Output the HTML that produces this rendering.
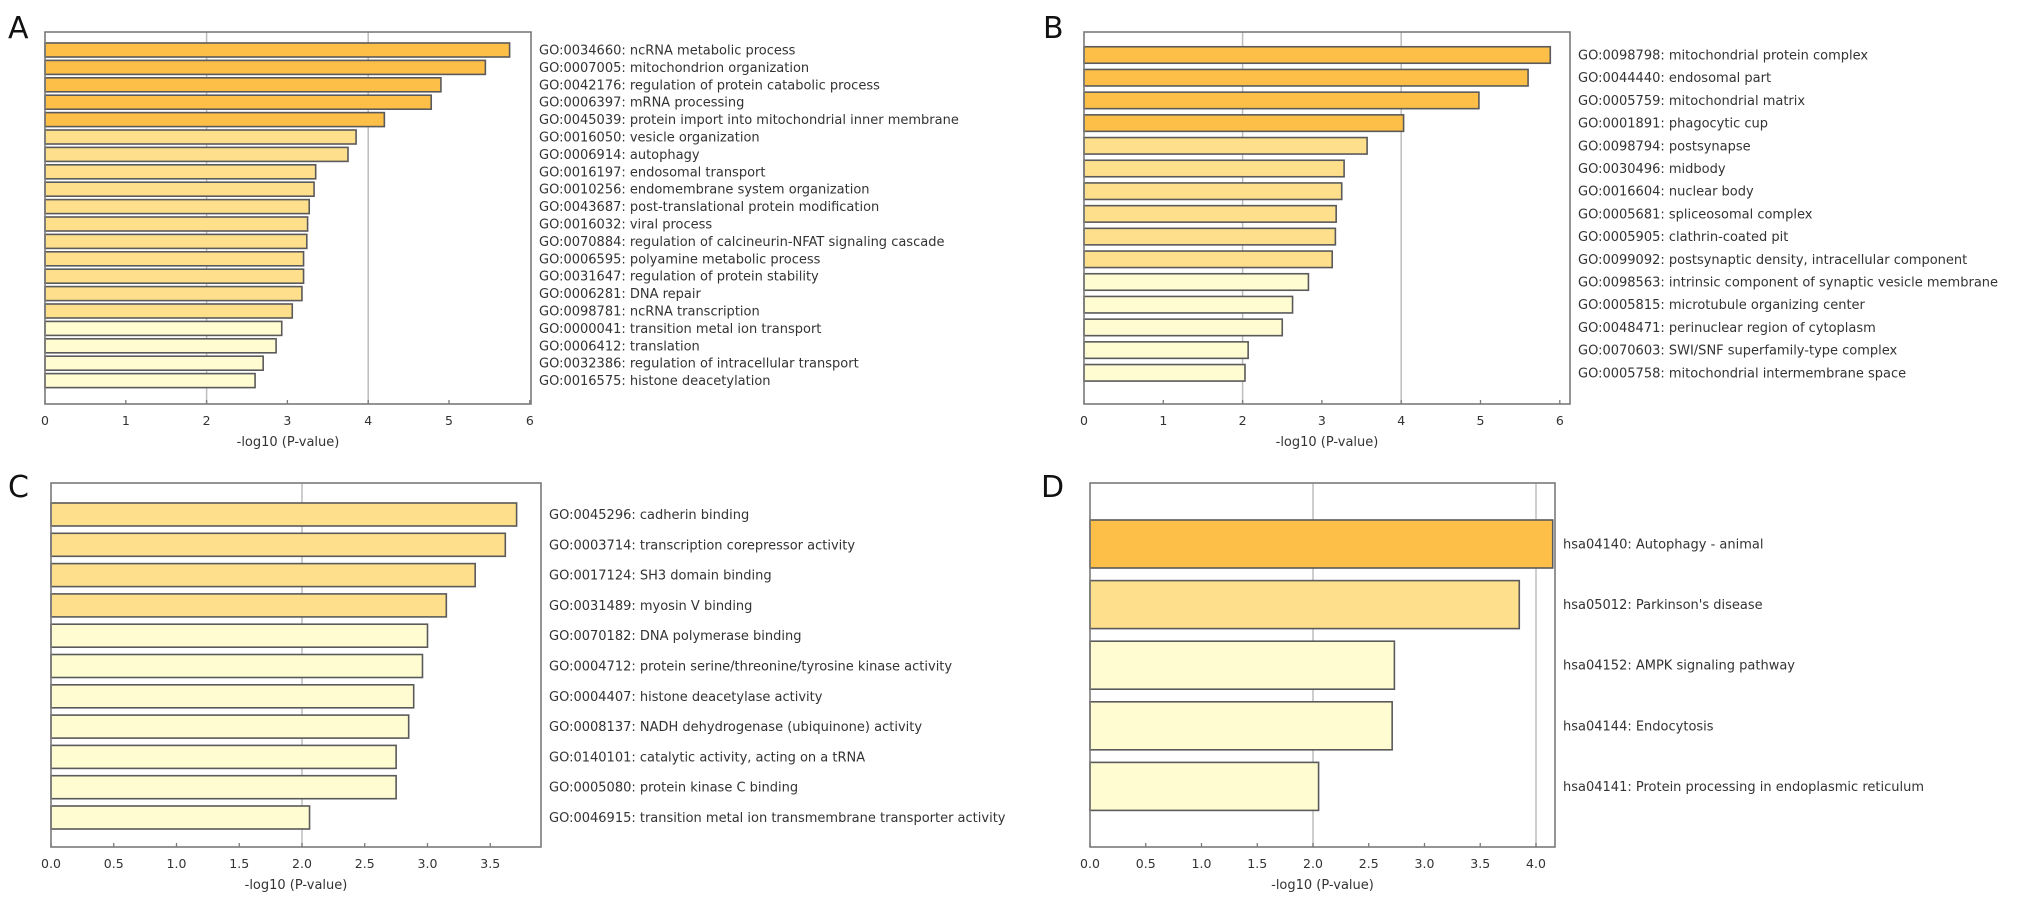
<!DOCTYPE html>
<html><head><meta charset="utf-8"><style>
html,body{margin:0;padding:0;background:#fff;}
svg{display:block;}
text{font-family:"DejaVu Sans","Liberation Sans",sans-serif;fill:#333;}
</style></head><body>
<svg id="fig" width="2031" height="905" viewBox="0 0 2031 905" xmlns="http://www.w3.org/2000/svg">
<text x="8" y="38" font-size="30" style="fill:#111">A</text>
<text x="1043" y="38" font-size="30" style="fill:#111">B</text>
<text x="8" y="497" font-size="30" style="fill:#111">C</text>
<text x="1041" y="497" font-size="30" style="fill:#111">D</text>
</svg>
<script>
const aTerms = ["GO:0034660: ncRNA metabolic process","GO:0007005: mitochondrion organization","GO:0042176: regulation of protein catabolic process","GO:0006397: mRNA processing","GO:0045039: protein import into mitochondrial inner membrane","GO:0016050: vesicle organization","GO:0006914: autophagy","GO:0016197: endosomal transport","GO:0010256: endomembrane system organization","GO:0043687: post-translational protein modification","GO:0016032: viral process","GO:0070884: regulation of calcineurin-NFAT signaling cascade","GO:0006595: polyamine metabolic process","GO:0031647: regulation of protein stability","GO:0006281: DNA repair","GO:0098781: ncRNA transcription","GO:0000041: transition metal ion transport","GO:0006412: translation","GO:0032386: regulation of intracellular transport","GO:0016575: histone deacetylation"];
const aValues = [5.75,5.45,4.9,4.78,4.2,3.85,3.75,3.35,3.33,3.27,3.25,3.24,3.2,3.2,3.18,3.06,2.93,2.86,2.7,2.6];
const aTiers = [0,0,0,0,0,1,1,1,1,1,1,1,1,1,1,1,2,2,2,2];
const aTicks = ["0","1","2","3","4","5","6"];

const bTerms = ["GO:0098798: mitochondrial protein complex","GO:0044440: endosomal part","GO:0005759: mitochondrial matrix","GO:0001891: phagocytic cup","GO:0098794: postsynapse","GO:0030496: midbody","GO:0016604: nuclear body","GO:0005681: spliceosomal complex","GO:0005905: clathrin-coated pit","GO:0099092: postsynaptic density, intracellular component","GO:0098563: intrinsic component of synaptic vesicle membrane","GO:0005815: microtubule organizing center","GO:0048471: perinuclear region of cytoplasm","GO:0070603: SWI/SNF superfamily-type complex","GO:0005758: mitochondrial intermembrane space"];
const bValues = [5.88,5.6,4.98,4.03,3.57,3.28,3.25,3.18,3.17,3.13,2.83,2.63,2.5,2.07,2.03];
const bTiers = [0,0,0,0,1,1,1,1,1,1,2,2,2,2,2];
const bTicks = ["0","1","2","3","4","5","6"];

const cTerms = ["GO:0045296: cadherin binding","GO:0003714: transcription corepressor activity","GO:0017124: SH3 domain binding","GO:0031489: myosin V binding","GO:0070182: DNA polymerase binding","GO:0004712: protein serine/threonine/tyrosine kinase activity","GO:0004407: histone deacetylase activity","GO:0008137: NADH dehydrogenase (ubiquinone) activity","GO:0140101: catalytic activity, acting on a tRNA","GO:0005080: protein kinase C binding","GO:0046915: transition metal ion transmembrane transporter activity"];
const cValues = [3.71,3.62,3.38,3.15,3.0,2.96,2.89,2.85,2.75,2.75,2.06];
const cTiers = [1,1,1,1,2,2,2,2,2,2,2];
const cTicks = ["0.0","0.5","1.0","1.5","2.0","2.5","3.0","3.5"];

const dTerms = ["hsa04140: Autophagy - animal","hsa05012: Parkinson's disease","hsa04152: AMPK signaling pathway","hsa04144: Endocytosis","hsa04141: Protein processing in endoplasmic reticulum"];
const dValues = [4.15,3.85,2.73,2.71,2.05];
const dTiers = [0,1,2,2,2];
const dTicks = ["0.0","0.5","1.0","1.5","2.0","2.5","3.0","3.5","4.0"];

const tierColors = ["#fdbf48","#fedf8c","#fffcd2"];
const svg = document.getElementById('fig');
const NS = "http://www.w3.org/2000/svg";
function mk(tag, attrs){const e=document.createElementNS(NS,tag);for(const k in attrs)e.setAttribute(k,attrs[k]);svg.appendChild(e);return e;}

function panel(id, terms, values, tiers, ticks, L){
  const x = v => L.left + v*L.ppu;
  const right = L.right;
  // gridlines
  ticks.forEach((t,i)=>{
    const v = parseFloat(t);
    if (L.grid.indexOf(v) >= 0){
      const g = mk('line',{x1:x(v),x2:x(v),y1:L.top,y2:L.bottom,stroke:'#bdbdbd','stroke-width':1.5});
      
      
    }
  });
  values.forEach((v,i)=>{
    const cy = L.first + i*L.pitch;
    const r = mk('rect',{x:L.left,y:cy-L.h/2,width:x(v)-L.left,height:L.h,fill:tierColors[tiers[i]],stroke:'#5a5a5a','stroke-width':1.6});
    
    
    const t = mk('text',{x:right+8,y:cy+4.5,'font-size':13});
    t.textContent = terms[i];
    
    
  });
  const f = mk('rect',{x:L.left,y:L.top,width:right-L.left,height:L.bottom-L.top,fill:'none',stroke:'#7a7a7a','stroke-width':1.6});
  
  
  ticks.forEach((t,i)=>{
    const v = parseFloat(t);
    const tk = mk('line',{x1:x(v),x2:x(v),y1:L.bottom,y2:L.bottom-4,stroke:'#7a7a7a','stroke-width':1.3});
    
    
    const tl = mk('text',{x:x(v),y:L.bottom+21,'font-size':12.5,'text-anchor':'middle'});
    tl.textContent = t;
    
    
  });
  const xl = mk('text',{x:(L.left+right)/2,y:L.bottom+42,'font-size':13,'text-anchor':'middle'});
  xl.textContent = '-log10 (P-value)';
  
  
}

panel('panel-a', aTerms, aValues, aTiers, aTicks, {left:45,right:531,top:32,bottom:404,ppu:80.8,first:50,pitch:17.4,h:14,grid:[2,4]});
panel('panel-b', bTerms, bValues, bTiers, bTicks, {left:1084,right:1570,top:32,bottom:404,ppu:79.3,first:55,pitch:22.7,h:16.5,grid:[2,4]});
panel('panel-c', cTerms, cValues, cTiers, cTicks, {left:51,right:541,top:483,bottom:847,ppu:125.5,first:514.5,pitch:30.3,h:23,grid:[2]});
panel('panel-d', dTerms, dValues, dTiers, dTicks, {left:1090,right:1555,top:483,bottom:847,ppu:111.5,first:544,pitch:60.6,h:48,grid:[2,4]});
</script>
</body></html>
